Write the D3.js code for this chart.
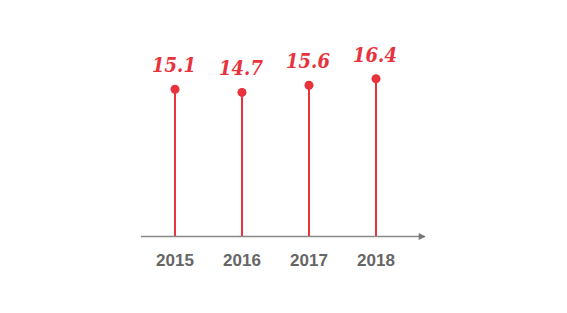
<!DOCTYPE html>
<html>
<head>
<meta charset="utf-8">
<script src="https://cdn.jsdelivr.net/npm/d3@7"></script>
<style>
  body { margin: 0; background: #fff; }
</style>
</head>
<body>
<div id="chart"></div>
<script>
var years = ["2015", "2016", "2017", "2018"];
var values = [15.1, 14.7, 15.6, 16.4];

function init() {
    var w = 567, h = 313;
    var red = "#e8323c";

    var svg = d3.select("#chart").append("svg")
        .attr("width", w)
        .attr("height", h);

    // x positions of the stems
    var x = d3.scalePoint()
        .domain(years)
        .range([175, 376]);

    // value scale (baseline sits below the visible range)
    var y = d3.scaleLinear()
        .domain([-3.25, 17])
        .range([236, 74]);

    // stems
    svg.selectAll("line.stem")
        .data(values)
        .enter()
        .append("line")
        .attr("class", "stem")
        .attr("x1", function (d, i) { return x(years[i]); })
        .attr("x2", function (d, i) { return x(years[i]); })
        .attr("y1", y(-3.25))
        .attr("y2", function (d) { return y(d); })
        .attr("stroke", red)
        .attr("stroke-width", 2);

    // axis line with arrow
    svg.append("defs").append("marker")
        .attr("id", "arrow")
        .attr("viewBox", "0 0 10 10")
        .attr("refX", 9).attr("refY", 5)
        .attr("markerWidth", 12).attr("markerHeight", 7)
        .attr("markerUnits", "userSpaceOnUse")
        .attr("orient", "auto")
        .append("path")
        .attr("d", "M0,0L10,5L0,10z")
        .attr("fill", "#777");

    svg.append("line")
        .attr("x1", 141).attr("x2", 425)
        .attr("y1", 236.5).attr("y2", 236.5)
        .attr("stroke", "#888")
        .attr("stroke-width", 1.5)
        .attr("marker-end", "url(#arrow)");

    // dots
    svg.selectAll("circle")
        .data(values)
        .enter()
        .append("circle")
        .attr("cx", function (d, i) { return x(years[i]); })
        .attr("cy", function (d) { return y(d); })
        .attr("r", 4.5)
        .attr("fill", red);

    // value labels
    svg.selectAll("text.val")
        .data(values)
        .enter()
        .append("text")
        .attr("class", "val")
        .attr("x", function (d, i) { return x(years[i]) - 1; })
        .attr("y", function (d) { return y(d) - 17; })
        .attr("text-anchor", "middle")
        .attr("font-family", "DejaVu Serif Condensed, DejaVu Serif")
        .attr("font-weight", "bold")
        .attr("font-style", "italic")
        .attr("font-size", 20)
        .attr("fill", red)
        .text(function (d) { return d.toFixed(1); });

    // year labels
    svg.selectAll("text.year")
        .data(years)
        .enter()
        .append("text")
        .attr("class", "year")
        .attr("x", function (d) { return x(d); })
        .attr("y", 266)
        .attr("text-anchor", "middle")
        .attr("font-family", "Liberation Sans, Arial, sans-serif")
        .attr("font-weight", "bold")
        .attr("font-size", 17)
        .attr("fill", "#666")
        .text(function (d) { return d; });
}
window.onload = init;
</script>
</body>
</html>
